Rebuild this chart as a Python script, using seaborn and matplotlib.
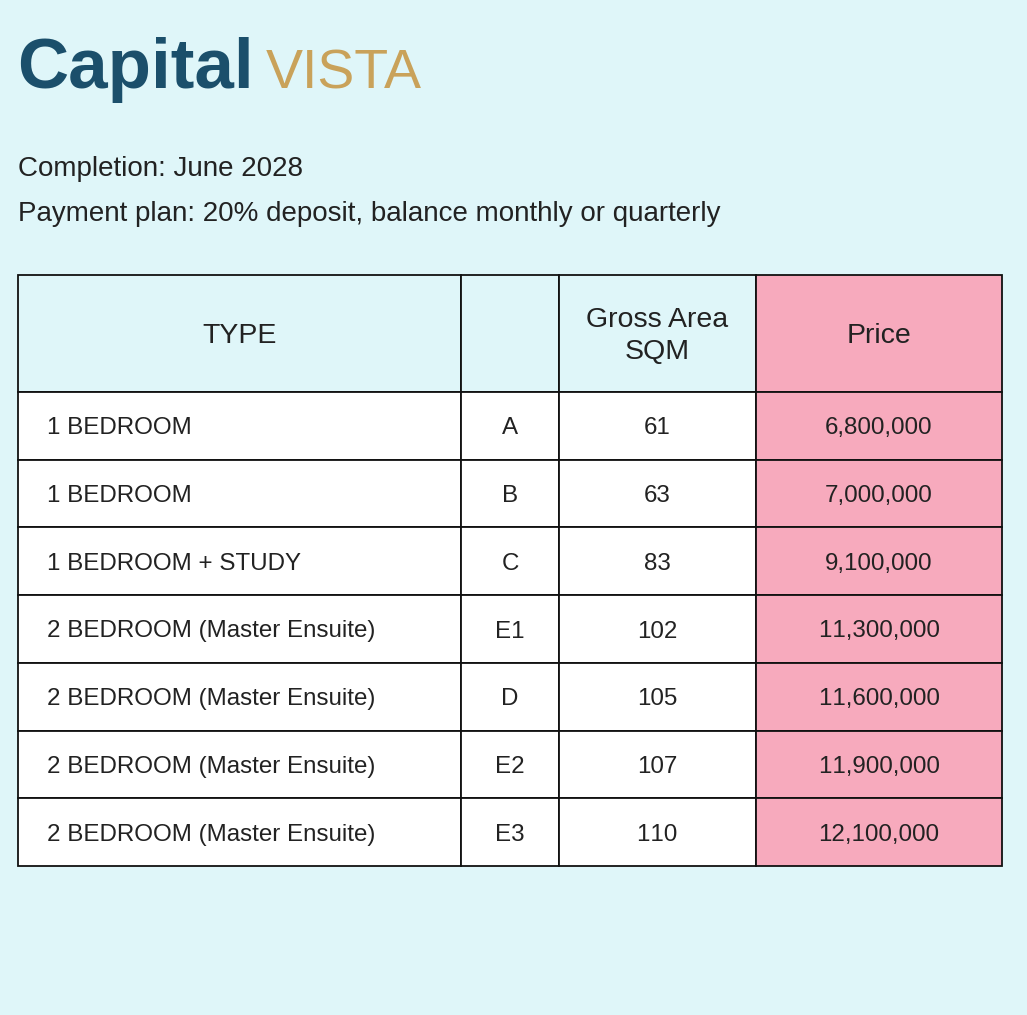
"""Capital VISTA price list rendered as a table figure."""
import matplotlib.pyplot as plt
import matplotlib.patches as mpatches
import seaborn as sns

# ---- data ----
unit_types = [
    "1 BEDROOM",
    "1 BEDROOM",
    "1 BEDROOM + STUDY",
    "2 BEDROOM (Master Ensuite)",
    "2 BEDROOM (Master Ensuite)",
    "2 BEDROOM (Master Ensuite)",
    "2 BEDROOM (Master Ensuite)",
]
unit_codes = ["A", "B", "C", "E1", "D", "E2", "E3"]
gross_area_sqm = [61, 63, 83, 102, 105, 107, 110]
prices = [6800000, 7000000, 9100000, 11300000, 11600000, 11900000, 12100000]
headers = ["TYPE", "", "Gross Area\nSQM", "Price"]

# ---- style ----
BG = "#DFF6F9"
PINK = "#F7AABD"
TEAL = "#1B4F6B"
GOLD = "#C9A25A"
TEXT = "#222222"
FONT = ["Liberation Sans", "DejaVu Sans"]

sns.set_theme(style="white")
plt.rcParams["font.family"] = FONT


def unkern(s):
    # Liberation Sans kerns "11" tightly; a zero-width space breaks the pair
    return s.replace("11", "1\u200b1")


W, H = 1027, 1015
fig = plt.figure(figsize=(W / 100, H / 100), dpi=100, facecolor=BG)
ax = fig.add_axes([0, 0, 1, 1])
ax.set_xlim(0, W)
ax.set_ylim(H, 0)
ax.axis("off")
ax.set_facecolor(BG)

# title block
ax.text(17, 88, "Capital", fontsize=51, fontweight="bold", color=TEAL,
        va="baseline", family=FONT)
ax.text(266, 88, "VISTA", fontsize=40, color=GOLD, va="baseline", family=FONT)
ax.text(18, 176, "Completion: June 2028", fontsize=20, color=TEXT,
        va="baseline", family=FONT)
ax.text(18, 221, "Payment plan: 20% deposit, balance monthly or quarterly",
        fontsize=20, color=TEXT, va="baseline", family=FONT)

# table geometry
col_edges = [18, 461, 559, 756, 1002]
top, header_bottom, bottom = 275, 392, 866
row_h = (bottom - header_bottom) / len(unit_types)


def cell(x0, x1, y0, y1, color):
    ax.add_patch(mpatches.Rectangle((x0, y0), x1 - x0, y1 - y0, facecolor=color,
                                    edgecolor="#111111", linewidth=1.3))


# header
for j, label in enumerate(headers):
    x0, x1 = col_edges[j], col_edges[j + 1]
    cell(x0, x1, top, header_bottom, PINK if j == 3 else BG)
    ax.text((x0 + x1) / 2, (top + header_bottom) / 2 + 2.5, label, fontsize=20.5,
            color=TEXT, ha="center", va="center", linespacing=1.28, family=FONT)

# body
for i, (t, c, a, p) in enumerate(zip(unit_types, unit_codes, gross_area_sqm, prices)):
    y0 = header_bottom + i * row_h
    y1 = y0 + row_h
    yc = (y0 + y1) / 2 + 2.5
    values = [t, c, unkern(str(a)), unkern(f"{p:,}")]
    for j, v in enumerate(values):
        x0, x1 = col_edges[j], col_edges[j + 1]
        cell(x0, x1, y0, y1, PINK if j == 3 else "white")
        if j == 0:
            ax.text(x0 + 29, yc, v, fontsize=17.4, color=TEXT, ha="left",
                    va="center", family=FONT)
        else:
            ax.text((x0 + x1) / 2, yc, v, fontsize=17.4, color=TEXT,
                    ha="center", va="center", family=FONT)

fig.savefig("out.png", dpi=100, facecolor=BG)
